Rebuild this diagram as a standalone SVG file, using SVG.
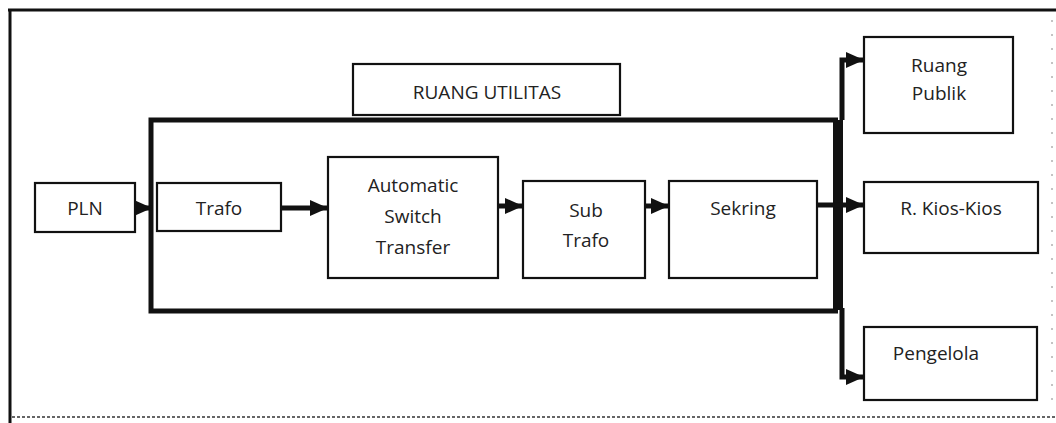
<svg xmlns="http://www.w3.org/2000/svg" width="1056" height="423" viewBox="0 0 1056 423">
<style>
.box{fill:#fff;stroke:#111;stroke-width:2.2}
.t{font-family:"Open Sans","Liberation Sans",sans-serif;font-size:19px;fill:#222;text-anchor:middle}
.wire{stroke:#111;fill:none;stroke-width:5}
</style>
<defs>
<marker id="ah" markerUnits="userSpaceOnUse" markerWidth="20" markerHeight="20" refX="18" refY="9" orient="auto">
<path d="M0,1 L18,9 L0,17 Z" fill="#111"/>
</marker>
</defs>
<rect width="1056" height="423" fill="#fff"/>
<g id="frame">
<line x1="8" y1="10" x2="1056" y2="10" stroke="#111" stroke-width="3"/>
<line x1="10" y1="9" x2="10" y2="423" stroke="#111" stroke-width="3"/>
<line x1="12" y1="417" x2="1056" y2="417" stroke="#333" stroke-width="1.5" stroke-dasharray="3 2"/>
<line x1="1052" y1="20" x2="1052" y2="410" stroke="#888" stroke-width="1" stroke-dasharray="2 12"/>
</g>
<g id="ruang-utilitas">
<rect class="box" x="353" y="64" width="267" height="51"/>
<text class="t" x="487" y="99">RUANG UTILITAS</text>
</g>
<g id="utility-room">
<path d="M838,120 H151 V311 H838" fill="none" stroke="#111" stroke-width="5"/>
</g>
<g id="pln">
<rect class="box" x="35" y="183" width="100" height="49"/>
<text class="t" x="85" y="215">PLN</text>
</g>
<g id="trafo">
<rect class="box" x="157" y="183" width="124" height="48"/>
<text class="t" x="219" y="215">Trafo</text>
</g>
<g id="ats">
<rect class="box" x="328" y="157" width="170" height="121"/>
<text class="t" x="413" y="192">Automatic</text>
<text class="t" x="413" y="223">Switch</text>
<text class="t" x="413" y="254">Transfer</text>
</g>
<g id="sub-trafo">
<rect class="box" x="523" y="181" width="122" height="97"/>
<text class="t" x="586" y="217">Sub</text>
<text class="t" x="586" y="247">Trafo</text>
</g>
<g id="sekring">
<rect class="box" x="669" y="181" width="148" height="97"/>
<text class="t" x="743" y="215">Sekring</text>
</g>
<g id="ruang-publik">
<rect class="box" x="864" y="37" width="149" height="96"/>
<text class="t" x="939" y="72">Ruang</text>
<text class="t" x="939" y="100">Publik</text>
</g>
<g id="kios">
<rect class="box" x="864" y="182" width="174" height="71"/>
<text class="t" x="951" y="215">R. Kios-Kios</text>
</g>
<g id="pengelola">
<rect class="box" x="864" y="327" width="173" height="73"/>
<text class="t" x="936" y="360">Pengelola</text>
</g>
<g id="connectors">
<line class="wire" x1="135" y1="208" x2="152" y2="208" marker-end="url(#ah)"/>
<line class="wire" x1="281" y1="208" x2="328" y2="208" marker-end="url(#ah)"/>
<line class="wire" x1="498" y1="206" x2="523" y2="206" marker-end="url(#ah)"/>
<line class="wire" x1="645" y1="206" x2="669" y2="206" marker-end="url(#ah)"/>
<rect x="833" y="120" width="10" height="190" fill="#111"/>
<path class="wire" d="M842,120 V60 H864" marker-end="url(#ah)"/>
<line class="wire" x1="817" y1="205" x2="864" y2="205" marker-end="url(#ah)"/>
<path class="wire" d="M842,308 V377 H864" marker-end="url(#ah)"/>
</g>
</svg>
